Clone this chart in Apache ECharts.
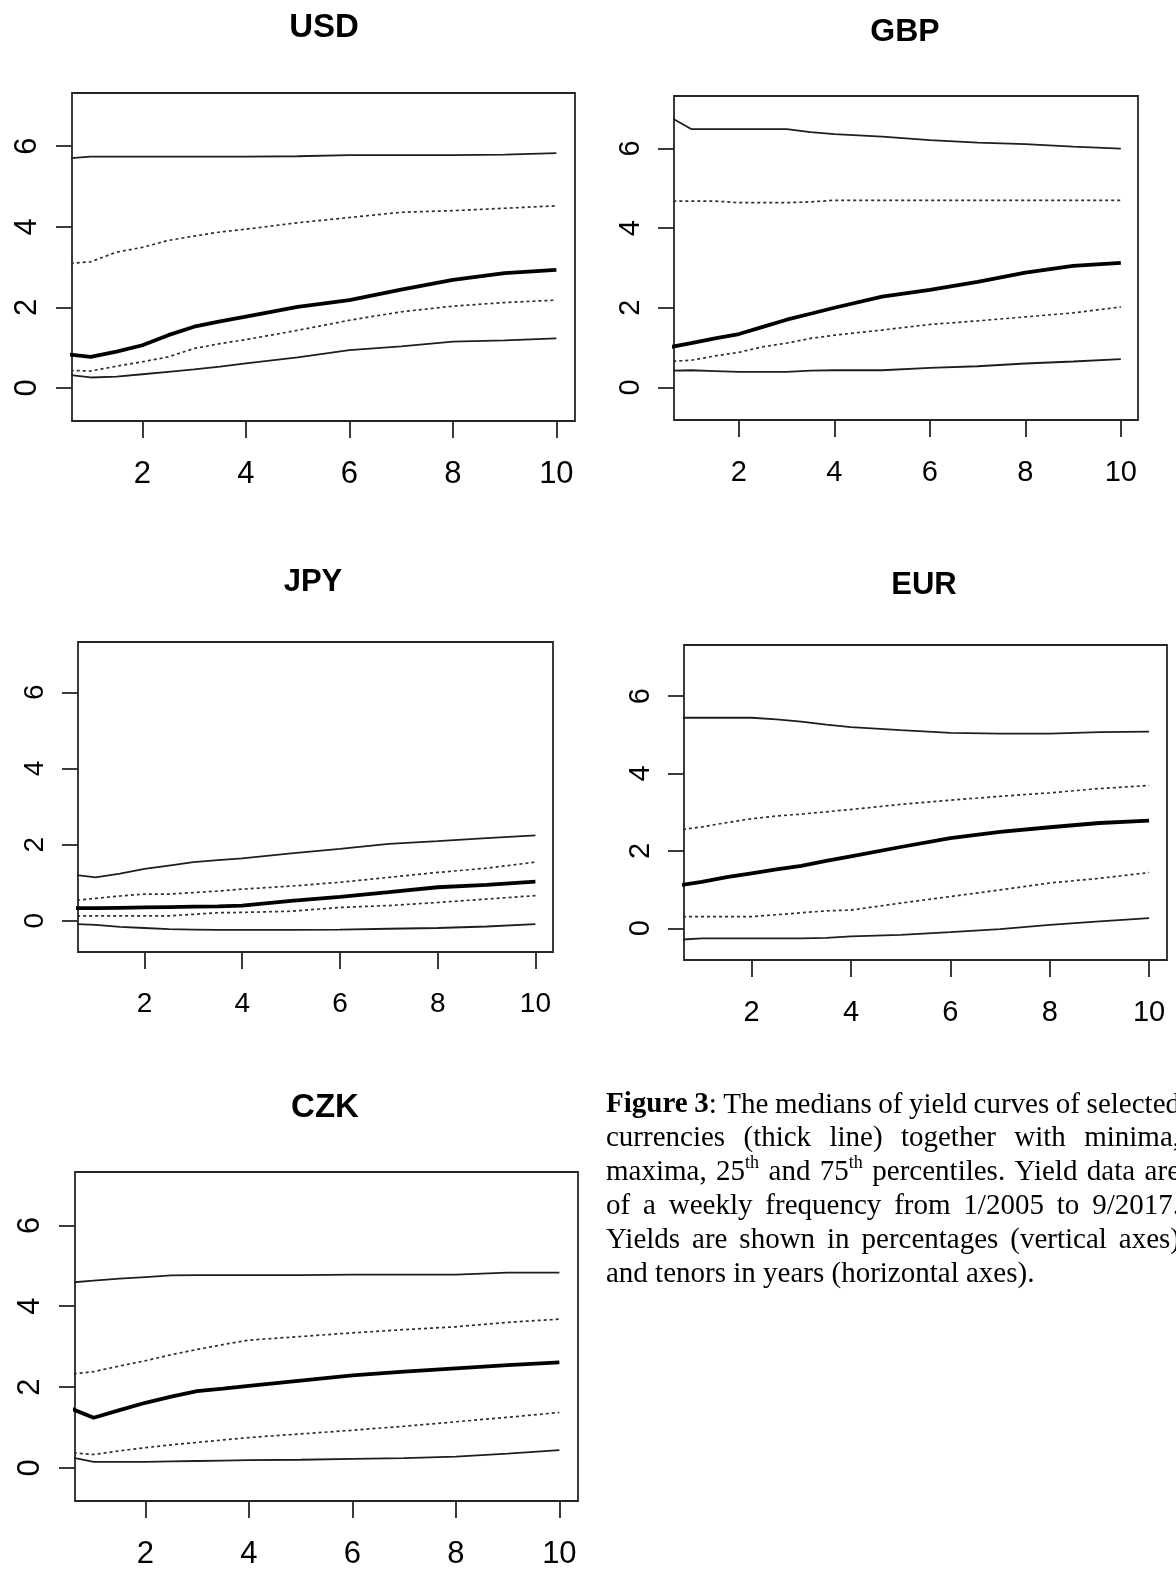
<!DOCTYPE html>
<html><head><meta charset="utf-8">
<script src="https://cdn.jsdelivr.net/npm/echarts@6/dist/echarts.min.js"></script>
<style>html,body{margin:0;padding:0;background:#fff}#c{width:1176px;height:1571px}</style>
</head><body><div id="c"></div>
<script>
// ---------- data ----------
const tenors = [0.5, 1, 1.5, 2, 2.5, 3, 3.5, 4, 5, 6, 7, 8, 9, 10];
const xTickValues = [2, 4, 6, 8, 10];
const yTickValues = [0, 2, 4, 6];
const panelNames = ['USD', 'GBP', 'JPY', 'EUR', 'CZK'];

const usdMax = [5.69,5.74,5.74,5.74,5.74,5.74,5.74,5.74,5.75,5.78,5.78,5.78,5.79,5.83];
const usdP75 = [3.08,3.13,3.37,3.49,3.66,3.77,3.87,3.94,4.10,4.23,4.36,4.40,4.46,4.52];
const usdMed = [0.84,0.77,0.90,1.06,1.31,1.52,1.65,1.77,2.01,2.18,2.44,2.68,2.85,2.93];
const usdP25 = [0.44,0.42,0.54,0.65,0.77,0.98,1.10,1.20,1.43,1.68,1.89,2.03,2.12,2.18];
const usdMin = [0.34,0.26,0.28,0.34,0.40,0.46,0.53,0.61,0.76,0.94,1.03,1.15,1.18,1.23];

const gbpMax = [6.83,6.49,6.49,6.49,6.49,6.49,6.41,6.36,6.30,6.21,6.15,6.11,6.05,6.00];
const gbpP75 = [4.68,4.68,4.68,4.64,4.64,4.64,4.66,4.70,4.70,4.70,4.70,4.70,4.70,4.70];
const gbpMed = [1.00,1.11,1.23,1.34,1.52,1.70,1.85,2.00,2.28,2.45,2.65,2.88,3.05,3.13];
const gbpP25 = [0.65,0.68,0.79,0.88,1.02,1.11,1.23,1.31,1.44,1.58,1.67,1.77,1.87,2.02];
const gbpMin = [0.42,0.43,0.41,0.39,0.39,0.39,0.42,0.43,0.43,0.49,0.53,0.60,0.65,0.71];

const jpyMax = [1.22,1.14,1.24,1.36,1.45,1.54,1.59,1.64,1.77,1.89,2.02,2.09,2.17,2.24];
const jpyP75 = [0.52,0.59,0.65,0.70,0.70,0.74,0.78,0.83,0.91,1.01,1.14,1.27,1.38,1.54];
const jpyMed = [0.33,0.33,0.34,0.35,0.36,0.37,0.38,0.40,0.52,0.63,0.75,0.88,0.94,1.03];
const jpyP25 = [0.13,0.13,0.13,0.13,0.13,0.17,0.21,0.22,0.25,0.35,0.40,0.48,0.57,0.66];
const jpyMin = [-0.08,-0.11,-0.16,-0.19,-0.22,-0.23,-0.24,-0.24,-0.24,-0.23,-0.21,-0.19,-0.15,-0.09];

const eurMax = [5.44,5.44,5.44,5.44,5.40,5.34,5.26,5.20,5.12,5.05,5.03,5.03,5.07,5.08];
const eurP75 = [2.53,2.62,2.73,2.83,2.90,2.95,3.01,3.07,3.20,3.31,3.41,3.50,3.61,3.69];
const eurMed = [1.10,1.20,1.32,1.42,1.52,1.61,1.74,1.86,2.10,2.33,2.49,2.61,2.72,2.78];
const eurP25 = [0.30,0.30,0.30,0.30,0.35,0.40,0.45,0.47,0.65,0.82,0.99,1.17,1.29,1.44];
const eurMin = [-0.30,-0.26,-0.26,-0.26,-0.26,-0.26,-0.25,-0.21,-0.17,-0.10,-0.02,0.09,0.18,0.26];

const czkMax = [4.58,4.63,4.68,4.72,4.76,4.77,4.77,4.77,4.77,4.78,4.78,4.78,4.83,4.83];
const czkP75 = [2.31,2.38,2.52,2.65,2.80,2.93,3.05,3.16,3.25,3.34,3.42,3.49,3.60,3.68];
const czkMed = [1.50,1.24,1.43,1.61,1.76,1.90,1.96,2.03,2.16,2.29,2.38,2.46,2.54,2.61];
const czkP25 = [0.38,0.33,0.42,0.50,0.57,0.63,0.69,0.75,0.84,0.93,1.03,1.14,1.25,1.37];
const czkMin = [0.28,0.15,0.15,0.15,0.16,0.17,0.18,0.19,0.20,0.22,0.24,0.28,0.35,0.44];

const captionLines = [
  '*Figure* *3*: The medians of yield curves of selected',
  'currencies (thick line) together with minima,',
  'maxima, 25^th and 75^th percentiles. Yield data are',
  'of a weekly frequency from 1/2005 to 9/2017.',
  'Yields are shown in percentages (vertical axes)',
  'and tenors in years (horizontal axes).'
];

// ---------- layout & style ----------
const panelSeries = [
  [usdMin, usdP25, usdMed, usdP75, usdMax],
  [gbpMin, gbpP25, gbpMed, gbpP75, gbpMax],
  [jpyMin, jpyP25, jpyMed, jpyP75, jpyMax],
  [eurMin, eurP25, eurMed, eurP75, eurMax],
  [czkMin, czkP25, czkMed, czkP75, czkMax]
];
const layout = [
  {left: 72,  top: 93,   width: 503, height: 328, tx: 324, ty: 28,   fs: 31, ts: 33},
  {left: 674, top: 96,   width: 464, height: 324, tx: 905, ty: 32,   fs: 29, ts: 32},
  {left: 78,  top: 642,  width: 475, height: 310, tx: 313, ty: 582,  fs: 28, ts: 31},
  {left: 684, top: 645,  width: 483, height: 315, tx: 924, ty: 585,  fs: 29, ts: 31},
  {left: 75,  top: 1172, width: 503, height: 329, tx: 325, ty: 1108, fs: 31, ts: 33}
];
const X_MIN = 0.64, X_MAX = 10.36, Y_MIN = -0.82, Y_MAX = 7.32;
const styles = [
  {type: 'solid', width: 1.8, color: '#1e1e1e'},
  {type: [3, 3], width: 1.7, color: '#2e2e2e'},
  {type: 'solid', width: 3.8, color: '#000'},
  {type: [3, 3], width: 1.7, color: '#2e2e2e'},
  {type: 'solid', width: 1.8, color: '#1e1e1e'}
];
const statNames = ['min', '25th', 'median', '75th', 'max'];
const AX = '#262626';

const grids = [], xAxes = [], yAxes = [], series = [], titles = [];
layout.forEach((L, i) => {
  grids.push({left: L.left, top: L.top, width: L.width, height: L.height,
    show: true, borderColor: AX, borderWidth: 1.8, backgroundColor: 'transparent',
    containLabel: false, outerBoundsMode: 'none'});
  xAxes.push({type: 'value', gridIndex: i, min: X_MIN, max: X_MAX,
    axisLine: {show: false, onZero: false},
    axisTick: {show: true, length: 17, inside: false, customValues: xTickValues, lineStyle: {color: AX, width: 1.8}},
    axisLabel: {show: true, customValues: xTickValues, margin: 38, fontSize: L.fs, color: '#000', fontFamily: 'Liberation Sans, Arial, sans-serif'},
    splitLine: {show: false}});
  yAxes.push({type: 'value', gridIndex: i, min: Y_MIN, max: Y_MAX,
    axisLine: {show: false, onZero: false},
    axisTick: {show: true, length: 16, inside: false, customValues: yTickValues, lineStyle: {color: AX, width: 1.8}},
    axisLabel: {show: true, customValues: yTickValues, rotate: 90, margin: 29, fontSize: L.fs, color: '#000', fontFamily: 'Liberation Sans, Arial, sans-serif'},
    splitLine: {show: false}});
  titles.push({text: panelNames[i], left: L.tx, top: L.ty, textAlign: 'center', textVerticalAlign: 'middle', padding: 0,
    textStyle: {fontSize: L.ts, fontWeight: 'bold', color: '#000', fontFamily: 'Liberation Sans, Arial, sans-serif'}});
  panelSeries[i].forEach((vals, k) => {
    series.push({type: 'line', name: panelNames[i] + ' ' + statNames[k], xAxisIndex: i, yAxisIndex: i,
      data: tenors.map((t, j) => [t, vals[j]]), showSymbol: false, symbol: 'none', clip: true, silent: true,
      lineStyle: styles[k], z: k === 2 ? 3 : 2});
  });
});

// ---------- caption (justified, measured text) ----------
const FS = 29;
const fontR = FS + 'px "Liberation Serif", "Times New Roman", serif';
const fontB = 'bold ' + FS + 'px "Liberation Serif", "Times New Roman", serif';
const fontS = '18px "Liberation Serif", "Times New Roman", serif';
const mctx = document.createElement('canvas').getContext('2d');
function measure(t, f) { mctx.font = f; return mctx.measureText(t).width; }
function parseWord(w) {
  const segs = []; let bold = false, sup = false, cur = '';
  const flush = () => { if (cur) { segs.push({t: cur, f: sup ? fontS : (bold ? fontB : fontR), sup}); cur = ''; } };
  for (const ch of w) {
    if (ch === '*') { flush(); bold = !bold; }
    else if (ch === '^') { flush(); sup = true; }
    else cur += ch;
  }
  flush();
  segs.forEach(s => s.w = measure(s.t, s.f));
  return segs;
}
const CX0 = 606, CX1 = 1180, CY0 = 1105, CDY = 33.8;
const graphics = [];
captionLines.forEach((line, li) => {
  const words = line.split(' ').map(parseWord);
  const wordW = words.map(ws => ws.reduce((a, s) => a + s.w, 0));
  const total = wordW.reduce((a, b) => a + b, 0);
  const last = li === captionLines.length - 1;
  const gap = last ? measure(' ', fontR) : Math.max(4, (CX1 - CX0 - total) / (words.length - 1));
  let x = CX0;
  const cy = CY0 + li * CDY;
  words.forEach((ws) => {
    ws.forEach(s => {
      graphics.push({type: 'text', x: x, y: s.sup ? cy - 9 : cy, silent: true,
        style: {text: s.t, font: s.f, fill: '#000', align: 'left', verticalAlign: 'middle'}});
      x += s.w;
    });
    x += gap;
  });
});

const chart = echarts.init(document.getElementById('c'), null, {renderer: 'canvas'});
chart.setOption({
  animation: false,
  backgroundColor: '#fff',
  title: titles,
  grid: grids,
  xAxis: xAxes,
  yAxis: yAxes,
  series: series,
  graphic: {elements: graphics}
});
</script>
</body></html>
